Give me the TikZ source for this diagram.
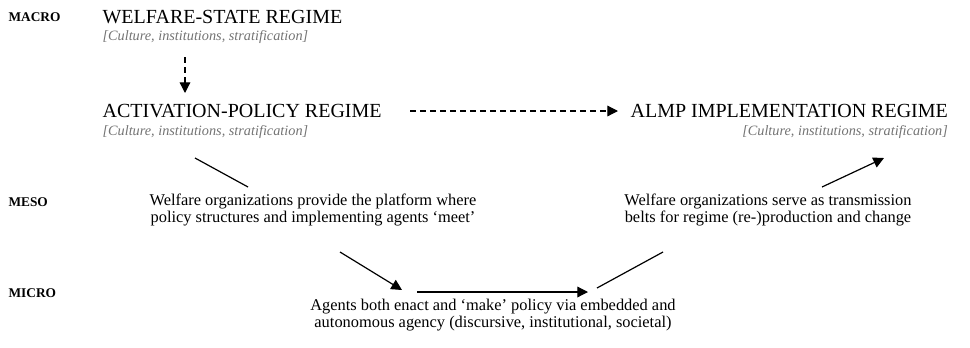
\documentclass[tikz,border=0pt]{standalone}
\usepackage{fontspec}
\setmainfont{Liberation Serif}
\usetikzlibrary{arrows.meta,calc}

\begin{document}
\begin{tikzpicture}[
                x=0.75pt,y=-0.75pt,
                line width=0.9pt,
                level/.style={font=\bfseries\fontsize{10}{12}\selectfont,anchor=west,inner sep=0},
                regime/.style={font=\fontsize{15}{17}\selectfont,anchor=west,inner sep=0},
                facets/.style={font=\itshape\fontsize{10.7}{12}\selectfont,text=black!55,anchor=west,inner sep=0},
                claim/.style={font=\fontsize{12.3}{13}\selectfont,align=center,inner sep=0},
                flow/.style={-{Triangle[length=8pt,width=8pt]}},
                link/.style={flow,dash pattern=on 4.5pt off 3pt}] %

\useasboundingbox (0,0) rectangle (970,347);

% levels
\node[level] (Macro) at (8,17)  {MACRO};
\node[level] (Meso)  at (8,202) {MESO};
\node[level] (Micro) at (8,293) {MICRO};

                    % 1
                    \node[regime] (RegimeA) at (102,17)  {WELFARE-STATE REGIME}; % 1
                    \node[facets] (FacetsA) at (102,37)  {[Culture, institutions, stratification]};

                    % 2
                    \node[regime] (RegimeB) at (102,111) {ACTIVATION-POLICY REGIME}; % 2
                    \node[facets] (FacetsB) at (102,132) {[Culture, institutions, stratification]};

                    % 3
                    \node[regime] (RegimeC) at (630,111) {ALMP IMPLEMENTATION REGIME}; % 3
                    \node[facets,anchor=east] (FacetsC) at (RegimeC.east |- 0,132) {[Culture, institutions, stratification]};

                    \draw[link] (185,57) coordinate (DownA) -- (185,93) coordinate (DownB);
                    \draw[link] (RegimeB.east) ++(28,0) coordinate (AcrossA) -- ($(RegimeC.west)+(-12,0)$);


 % meso
                    \node[claim] (OrgA) at (313,210) {Welfare organizations provide the platform where\\
                    policy structures and implementing agents `meet'};
                    \node[claim] (OrgB) at (768,210) {Welfare organizations serve as transmission\\
                    belts for regime (re-)production and change};

 % micro
                    \node[claim] (Agents) at (493,315) {Agents both enact and `make' policy via embedded and\\
                    autonomous agency (discursive, institutional, societal)};

                    \coordinate (InA)  at (195,158);
                    \coordinate (InB)  at (248,187);
                    \coordinate (DropA) at (340,252);
                    \coordinate (DropB) at (402,290);
                    \coordinate (RunA) at (417,292);
                    \coordinate (RunB) at (588,292);
                    \coordinate (RiseA) at (597,288);
                    \coordinate (RiseB) at (663,252);
                    \coordinate (UpA)  at (822,187);
                    \coordinate (UpB)  at (884,158);

                    \draw (InA) -- (InB);
                    \draw[flow] (DropA) -- (DropB);
                    \draw[flow] (RunA) -- (RunB);
                    \draw (RiseA) -- (RiseB);
                    \draw[flow] (UpA) -- (UpB);

                    \end{tikzpicture}
\end{document}
